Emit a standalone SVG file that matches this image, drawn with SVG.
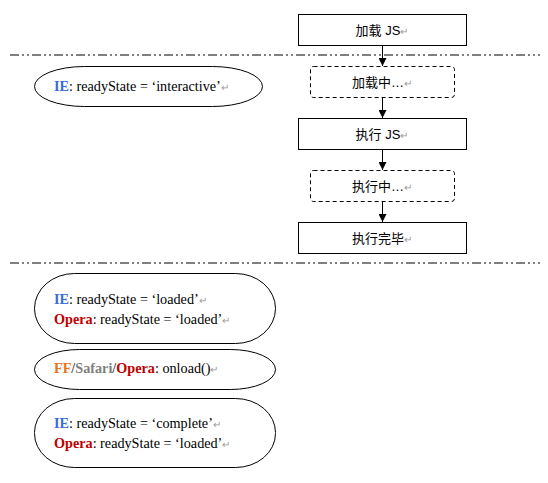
<svg xmlns="http://www.w3.org/2000/svg" width="548" height="483" viewBox="0 0 548 483">
<style>
.bg{fill:#fff}
.box{fill:#fff;stroke:#000;stroke-width:1}
.dbox{fill:#fff;stroke:#000;stroke-width:1;stroke-dasharray:4 3}
.sep{stroke:#000;stroke-width:1;stroke-dasharray:9 3 2 3 2 3;fill:none}
.cn{font-family:"Liberation Sans","Noto Sans CJK SC",sans-serif;font-size:13px;fill:#000;text-anchor:middle}
.en{font-family:"Liberation Serif","Times New Roman",serif;font-size:14.2px;fill:#000}
.ret{fill:#999;font-size:10px}
.ie{fill:#3a6bd6;font-weight:bold}
.op{fill:#c00000;font-weight:bold}
.ff{fill:#e8711c;font-weight:bold}
.sf{fill:#7f7f7f;font-weight:bold}
.conn{stroke:#000;stroke-width:1;fill:none;marker-end:url(#ah)}
</style>
<defs>
<marker id="ah" viewBox="0 0 8 8" refX="8" refY="4" markerWidth="8" markerHeight="8" markerUnits="userSpaceOnUse" orient="auto">
<path d="M0,0 L8,4 L0,8 Z" fill="#000"/>
</marker>
</defs>
<rect class="bg" x="0" y="0" width="548" height="483"/>
<line class="sep" x1="10" y1="55" x2="540" y2="55"/>
<line class="sep" x1="10" y1="263" x2="540" y2="263"/>
<g id="connectors">
<line class="conn" x1="382.5" y1="45" x2="382.5" y2="66"/>
<line class="conn" x1="382.5" y1="97" x2="382.5" y2="118"/>
<line class="conn" x1="382.5" y1="149" x2="382.5" y2="170"/>
<line class="conn" x1="382.5" y1="201" x2="382.5" y2="222"/>
</g>
<g id="load-js">
<rect class="box" x="298.5" y="14.5" width="168" height="31"/>
<text class="cn" x="382" y="35">加载 JS<tspan class="ret">↵</tspan></text>
</g>
<g id="loading">
<rect class="dbox" x="310.5" y="66.5" width="144" height="31" rx="3"/>
<text class="cn" x="382" y="87">加载中…<tspan class="ret">↵</tspan></text>
</g>
<g id="exec-js">
<rect class="box" x="298.5" y="118.5" width="168" height="31"/>
<text class="cn" x="382" y="139">执行 JS<tspan class="ret">↵</tspan></text>
</g>
<g id="executing">
<rect class="dbox" x="310.5" y="170.5" width="144" height="31" rx="3"/>
<text class="cn" x="382" y="191">执行中…<tspan class="ret">↵</tspan></text>
</g>
<g id="exec-done">
<rect class="box" x="298.5" y="222.5" width="168" height="31"/>
<text class="cn" x="382" y="243">执行完毕<tspan class="ret">↵</tspan></text>
</g>
<g id="interactive">
<rect class="box" x="34.5" y="66.5" width="228" height="40" rx="50" ry="20"/>
<text class="en" x="54" y="91"><tspan class="ie">IE</tspan>: readyState = ‘interactive’<tspan class="ret">↵</tspan></text>
</g>
<g id="loaded">
<rect class="box" x="34.5" y="273.5" width="241" height="70" rx="40" ry="35"/>
<text class="en" x="54" y="304"><tspan class="ie">IE</tspan>: readyState = ‘loaded’<tspan class="ret">↵</tspan></text>
<text class="en" x="54" y="324"><tspan class="op">Opera</tspan>: readyState = ‘loaded’<tspan class="ret">↵</tspan></text>
</g>
<g id="onload">
<rect class="box" x="34.5" y="349.5" width="241" height="40" rx="45" ry="20"/>
<text class="en" x="54" y="373"><tspan class="ff">FF</tspan>/<tspan class="sf">Safari</tspan>/<tspan class="op">Opera</tspan>: onload()<tspan class="ret">↵</tspan></text>
</g>
<g id="complete">
<rect class="box" x="34.5" y="398.5" width="241" height="69" rx="40" ry="34"/>
<text class="en" x="54" y="428"><tspan class="ie">IE</tspan>: readyState = ‘complete’<tspan class="ret">↵</tspan></text>
<text class="en" x="54" y="448"><tspan class="op">Opera</tspan>: readyState = ‘loaded’<tspan class="ret">↵</tspan></text>
</g>
</svg>
